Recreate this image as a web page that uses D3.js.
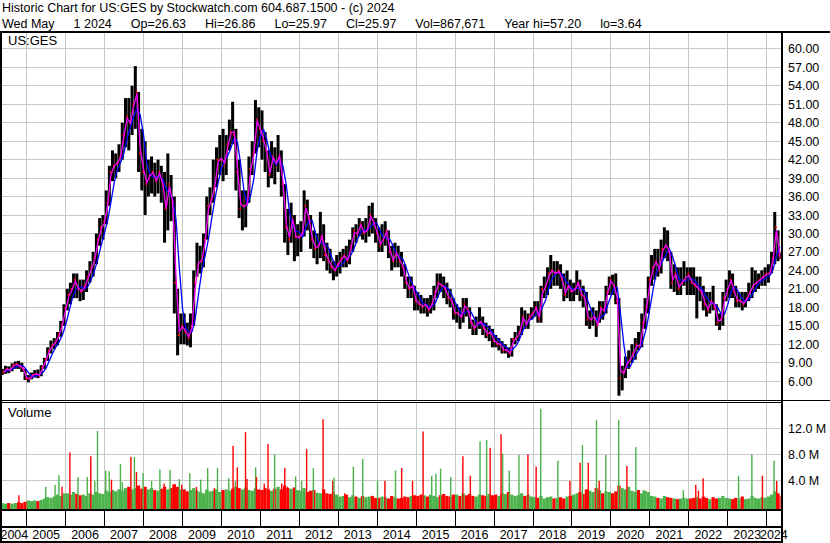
<!DOCTYPE html>
<html><head><meta charset="utf-8">
<script src="https://cdn.jsdelivr.net/npm/d3@7"></script>
<style>
body{margin:0;background:#fff}
svg{display:block}
text{font-family:"Liberation Sans",Arial,sans-serif;fill:#000}
</style>
</head><body>
<svg id="c" width="830" height="543"></svg>
<script>
// ---------------- data (monthly, May 2004 .. May 1 2024) ----------------
const startMonth = "2004-05-01";
const lastDate = "2024-05-01";
const high = [
 8.0, 8.5, 8.4, 8.9, 9.2, 9.3, 9.0, 8.0,
 7.0, 7.4, 7.8, 7.9, 8.6, 9.8, 11.5, 12.6, 13.0, 14.0, 15.8, 18.5,
 21.0, 22.0, 23.5, 23.5, 22.5, 22.5, 24.0, 25.5, 27.0, 30.0, 32.5, 33.0,
 37.0, 41.0, 43.5, 43.0, 44.5, 48.0, 52.0, 52.0, 54.0, 57.2, 53.0, 47.0,
 45.0, 42.0, 42.5, 41.5, 42.0, 41.0, 40.0, 43.0, 39.5, 36.0, 21.0, 17.0,
 17.0, 15.5, 17.0, 24.0, 28.5, 28.0, 30.0, 36.0, 37.5, 42.0, 44.0, 46.0,
 47.0, 46.0, 48.5, 51.4, 47.0, 42.0, 37.0, 37.0, 42.5, 45.0, 51.7, 50.5,
 50.0, 46.5, 43.5, 45.0, 44.0, 46.0, 43.5, 38.0, 34.0, 35.0, 33.0, 31.5,
 32.0, 37.0, 35.5, 33.0, 30.5, 30.0, 33.5, 31.5, 28.5, 27.5, 25.5, 26.5,
 27.0, 27.5, 28.0, 29.0, 31.0, 31.5, 32.5, 32.0, 32.5, 34.5, 35.0, 32.5,
 31.0, 31.5, 32.0, 30.5, 28.0, 28.5, 28.0, 27.0, 25.0, 23.0, 23.0, 21.5,
 20.5, 20.0, 19.5, 19.5, 20.0, 21.5, 23.5, 23.5, 23.0, 22.0, 21.0, 19.5,
 18.5, 18.0, 19.5, 19.5, 18.0, 16.0, 16.5, 18.0, 16.5, 15.5, 15.0, 14.5,
 13.5, 13.0, 12.5, 12.0, 11.5, 13.0, 14.0, 15.0, 18.0, 17.5, 17.0, 18.0,
 19.0, 19.0, 21.5, 23.0, 24.5, 26.5, 25.5, 25.5, 25.0, 23.5, 24.0, 22.5,
 22.0, 24.0, 22.5, 21.5, 20.5, 17.5, 18.0, 17.5, 19.0, 19.0, 21.5, 23.0,
 23.3, 23.5, 19.5, 8.5, 10.0, 11.0, 12.0, 13.0, 14.0, 17.0, 19.5, 23.0,
 26.5, 27.5, 27.5, 29.0, 31.0, 30.5, 27.0, 25.0, 24.5, 24.5, 25.5, 24.5,
 24.5, 24.5, 23.0, 23.0, 21.5, 20.5, 20.5, 21.5, 18.5, 17.0, 20.5, 22.5,
 24.0, 23.5, 21.5, 20.5, 20.5, 20.5, 22.0, 24.5, 24.0, 23.5, 24.0, 24.5,
 25.0, 27.0, 33.5, 30.5, 26.86
];
const low = [
 7.0, 7.2, 7.3, 7.6, 8.0, 8.0, 7.5, 6.2,
 5.8, 6.3, 6.6, 6.5, 6.8, 8.0, 9.3, 10.5, 11.2, 11.8, 13.2, 15.0,
 17.5, 18.5, 19.5, 19.5, 19.0, 19.2, 20.5, 22.0, 23.0, 25.0, 28.0, 29.0,
 31.5, 34.5, 38.5, 39.0, 40.0, 42.0, 44.0, 43.5, 46.0, 47.0, 40.0, 37.0,
 33.0, 36.0, 36.5, 36.0, 36.5, 35.0, 28.5, 30.5, 32.0, 17.0, 10.2, 12.0,
 12.0, 11.8, 11.5, 15.0, 23.0, 23.5, 24.5, 29.0, 33.0, 35.0, 37.5, 39.5,
 38.5, 39.5, 43.5, 44.5, 37.0, 32.5, 30.5, 31.0, 35.0, 39.5, 43.0, 44.0,
 42.0, 40.0, 37.5, 39.0, 38.0, 40.0, 36.0, 28.5, 26.5, 28.5, 25.5, 26.3,
 27.0, 29.5, 30.5, 27.5, 26.0, 25.0, 26.0, 25.5, 24.0, 23.5, 22.4, 23.0,
 23.5, 24.5, 24.5, 25.0, 27.0, 28.5, 29.5, 29.0, 28.5, 29.5, 30.0, 28.5,
 27.0, 27.0, 28.0, 26.0, 24.0, 24.5, 24.5, 23.0, 21.0, 19.5, 19.5, 17.5,
 17.5, 17.0, 17.0, 16.5, 17.0, 17.5, 19.5, 20.5, 19.5, 18.5, 18.0, 16.0,
 15.5, 14.5, 15.5, 16.5, 14.5, 13.5, 13.5, 14.5, 13.5, 13.0, 12.5, 11.5,
 11.5, 11.0, 10.5, 10.5, 9.8, 10.0, 12.0, 12.5, 13.5, 14.5, 14.5, 16.0,
 16.5, 15.5, 15.5, 19.5, 20.0, 21.0, 21.5, 21.5, 21.0, 19.0, 19.5, 19.0,
 19.0, 20.0, 19.0, 18.0, 15.0, 14.5, 15.0, 13.2, 15.5, 16.0, 17.0, 20.0,
 20.0, 18.5, 3.64, 4.5, 6.5, 8.0, 9.0, 9.5, 11.0, 11.5, 14.5, 17.0,
 21.5, 22.5, 23.0, 23.5, 26.0, 25.5, 21.0, 20.5, 20.0, 20.0, 21.5, 20.0,
 20.0, 20.0, 16.2, 19.0, 17.5, 16.5, 17.0, 17.5, 15.0, 14.3, 15.0, 19.0,
 19.5, 19.5, 18.0, 18.0, 17.5, 18.0, 19.0, 19.5, 20.5, 21.0, 21.5, 21.5,
 22.0, 23.5, 25.0, 25.5, 25.97
];
const close = [
 7.5, 8.0, 7.8, 8.6, 8.8, 8.4, 8.0, 6.4,
 6.4, 7.0, 7.2, 6.9, 8.3, 9.5, 11.0, 11.8, 12.4, 13.6, 15.2, 17.8,
 20.0, 21.0, 22.5, 21.0, 20.5, 21.5, 23.0, 24.5, 26.0, 29.0, 31.0, 32.0,
 35.0, 40.0, 41.0, 41.5, 42.5, 46.0, 49.0, 48.0, 51.0, 53.0, 43.0, 40.0,
 38.0, 39.5, 40.0, 38.5, 40.0, 38.0, 34.0, 38.0, 35.0, 22.0, 13.5, 15.0,
 14.0, 13.0, 15.0, 22.0, 25.0, 25.5, 29.0, 34.5, 35.5, 37.5, 42.0, 42.0,
 41.0, 44.5, 46.5, 46.0, 40.0, 34.0, 34.5, 35.0, 40.5, 43.0, 48.5, 47.0,
 45.0, 43.5, 39.5, 42.5, 41.5, 42.5, 38.0, 31.0, 29.0, 32.5, 29.5, 29.5,
 30.0, 34.5, 32.5, 29.0, 27.5, 28.0, 29.5, 26.5, 25.5, 24.5, 24.0, 25.0,
 26.0, 26.5, 25.5, 28.0, 30.5, 30.0, 31.5, 30.0, 30.5, 33.0, 31.5, 30.0,
 28.0, 29.0, 30.5, 27.0, 25.5, 27.0, 25.5, 24.5, 22.0, 21.0, 21.5, 19.0,
 18.5, 18.0, 18.5, 17.5, 18.5, 20.5, 22.0, 21.5, 21.0, 19.5, 19.0, 17.0,
 17.0, 16.5, 18.5, 17.5, 15.5, 14.5, 15.5, 15.5, 14.5, 13.5, 14.0, 12.5,
 12.0, 12.0, 11.0, 11.0, 10.5, 12.8, 13.0, 14.0, 16.5, 15.0, 16.5, 17.0,
 18.0, 16.0, 21.0, 21.5, 23.5, 24.0, 23.5, 24.0, 22.5, 20.0, 21.5, 20.5,
 21.0, 22.0, 20.0, 19.5, 16.0, 16.0, 16.5, 15.0, 18.0, 17.5, 20.5, 22.5,
 21.5, 19.0, 6.5, 7.5, 9.0, 9.5, 10.5, 12.0, 11.5, 15.5, 18.0, 22.5,
 24.5, 25.5, 24.0, 27.5, 28.0, 27.0, 22.0, 23.5, 21.0, 22.0, 22.5, 23.5,
 22.0, 21.5, 21.5, 20.5, 18.5, 17.5, 19.0, 18.0, 15.5, 16.0, 19.5, 21.0,
 22.5, 20.5, 19.0, 19.0, 18.5, 19.5, 20.5, 21.5, 22.0, 22.5, 23.0, 23.5,
 23.5, 26.0, 31.0, 26.5, 25.97
];
// typical monthly volume level (millions of shares)
const volume = [
 0.5, 0.4, 0.5, 0.4, 0.5, 0.6, 0.5, 0.7,
 0.9, 0.8, 0.9, 0.8, 1.0, 1.2, 1.4, 1.3, 1.5, 1.8, 1.6, 2.0,
 2.0, 1.8, 2.2, 1.9, 1.7, 1.8, 1.6, 2.0, 1.8, 2.2, 2.0, 1.9,
 2.4, 2.2, 2.5, 2.3, 2.6, 2.4, 2.8, 3.0, 2.6, 2.8, 3.2, 2.7,
 3.0, 2.6, 2.8, 2.5, 2.4, 2.7, 3.0, 2.6, 2.8, 3.4, 3.0, 2.6,
 2.6, 2.3, 2.5, 2.8, 2.4, 2.2, 2.0, 2.6, 2.3, 2.4, 2.6, 2.2,
 2.5, 2.6, 2.4, 2.7, 3.0, 2.8, 2.6, 2.9, 2.5, 2.4, 2.8, 2.6,
 2.5, 2.8, 2.6, 2.4, 2.7, 3.0, 2.6, 3.2, 2.8, 2.7, 2.9, 2.5,
 2.4, 2.8, 2.2, 2.4, 2.5, 2.1, 2.0, 2.6, 2.0, 1.9, 2.2, 1.8,
 1.5, 1.6, 1.8, 1.4, 1.7, 1.5, 1.3, 1.6, 1.4, 1.5, 1.6, 1.3,
 1.3, 1.5, 1.4, 1.2, 1.6, 1.4, 1.2, 1.3, 1.5, 1.4, 1.6, 1.7,
 1.6, 1.8, 1.7, 1.5, 1.8, 1.6, 1.4, 1.7, 1.9, 1.6, 1.5, 1.8,
 1.8, 1.6, 2.0, 1.7, 1.9, 1.6, 1.5, 1.8, 1.7, 1.6, 1.9, 1.7,
 1.8, 1.6, 2.0, 1.9, 2.2, 1.8, 1.6, 1.7, 2.0, 1.6, 1.8, 1.5,
 1.4, 1.3, 1.6, 1.2, 1.4, 1.5, 1.2, 1.3, 1.4, 1.2, 1.5, 1.6,
 1.8, 2.0, 2.2, 1.9, 2.6, 2.4, 2.2, 2.8, 2.5, 2.0, 2.3, 2.2,
 2.0, 2.3, 3.2, 2.8, 2.6, 3.0, 2.4, 2.2, 2.5, 2.0, 2.4, 2.2,
 1.6, 1.5, 1.3, 1.2, 1.6, 1.4, 1.3, 1.2, 1.1, 1.2, 1.3, 1.2,
 1.2, 1.3, 1.4, 1.2, 1.5, 1.3, 1.1, 1.4, 1.2, 1.3, 1.6, 1.3,
 1.2, 1.1, 1.3, 1.2, 1.5, 1.1, 1.2, 1.6, 1.3, 1.2, 1.4, 1.3,
 1.5, 1.8, 2.3, 2.0, 1.6
];
// single-day volume spikes (millions); direction u = up day (green), d = down day (red)
const spikeDates = [
 "2004-10-20","2005-06-28","2005-09-24","2005-10-30","2005-11-28","2006-02-10","2006-04-27","2006-07-23",
 "2006-08-25","2006-10-01","2006-10-27","2007-01-12","2007-02-14","2007-03-07","2007-05-30","2007-06-17",
 "2007-09-05","2007-10-08","2007-10-27","2007-12-28","2008-03-17","2008-06-03","2008-07-13","2008-09-06",
 "2008-10-05","2008-12-02","2008-12-24","2009-03-10","2009-05-12","2009-06-21","2009-08-25","2009-10-27",
 "2009-11-25","2010-03-10","2010-04-20","2010-05-12","2010-05-30","2010-08-15","2010-08-29","2010-11-18",
 "2010-11-25","2011-02-06","2011-03-14","2011-05-15","2011-07-20","2011-08-18","2011-09-13","2011-11-28",
 "2012-01-23","2012-03-10","2012-05-12","2012-08-11","2012-11-10","2012-11-21","2013-03-03","2013-05-22",
 "2013-08-18","2014-01-04","2014-03-14","2014-06-21","2014-08-18","2014-11-28","2015-03-07","2015-05-27",
 "2015-07-05","2015-08-18","2015-11-21","2016-03-14","2016-05-23","2016-08-22","2016-10-23","2016-11-25",
 "2017-03-07","2017-03-22","2017-05-23","2017-08-22","2017-11-14","2018-01-30","2018-03-14","2018-08-22",
 "2018-12-13","2019-03-18","2019-04-09","2019-06-03","2019-08-19","2019-09-13","2019-11-14","2020-03-14",
 "2020-05-30","2020-08-22","2020-10-30","2021-11-10","2022-03-07","2022-04-01","2022-05-15","2023-04-12",
 "2023-08-15","2023-11-22","2024-03-10","2024-04-04"
];
const spikeVols = [
 1.7, 3.0, 3.3, 4.8, 3.0, 8.3, 4.5, 4.5,
 7.7, 3.9, 11.6, 5.5, 5.4, 4.1, 6.5, 3.7,
 7.6, 7.6, 5.3, 5.1, 3.9, 5.7, 3.5, 5.6,
 3.3, 4.2, 3.3, 5.1, 3.0, 4.1, 5.9, 2.8,
 5.9, 4.3, 9.3, 3.9, 6.0, 11.4, 4.2, 6.0,
 4.5, 3.5, 9.6, 8.0, 3.5, 5.9, 3.0, 4.6,
 3.9, 8.8, 5.9, 13.4, 3.9, 4.4, 2.0, 6.1,
 7.3, 3.9, 3.9, 5.5, 5.9, 3.9, 11.5, 4.7,
 5.0, 5.8, 4.5, 7.7, 4.7, 10.0, 10.2, 9.0,
 11.1, 8.1, 5.5, 7.9, 8.0, 6.1, 15.0, 7.0,
 3.9, 6.7, 9.4, 6.7, 13.3, 3.9, 7.9, 13.3,
 6.2, 9.1, 2.5, 2.5, 3.3, 2.4, 4.3, 4.7,
 8.0, 4.7, 7.0, 3.9
];
const spikeDir = [
 "d","u","u","u","d","d","u","u",
 "d","u","u","u","u","d","u","u",
 "d","u","d","u","u","u","d","u",
 "d","u","d","u","d","u","u","d",
 "u","u","d","u","d","d","d","u",
 "d","d","d","u","d","d","d","u",
 "u","d","u","d","d","u","d","u",
 "u","u","d","u","d","d","d","u",
 "u","u","u","d","d","u","u","d",
 "d","u","u","u","d","d","u","u",
 "d","d","u","d","u","d","u","u",
 "d","u","u","u","d","d","d","u",
 "u","d","u","d"
];
const priceTicks = [6, 9, 12, 15, 18, 21, 24, 27, 30, 33, 36, 39, 42, 45, 48, 51, 54, 57, 60];
const volTicks = [4, 8, 12];
const years = d3.range(2004, 2025);
const title1 = "Historic Chart for US:GES by Stockwatch.com 604.687.1500 - (c) 2024";
const title2Fields = ["Wed May", "1 2024", "Op=26.63", "Hi=26.86", "Lo=25.97", "Cl=25.97", "Vol=867,671", "Year hi=57.20", "lo=3.64"];
const symbol = "US:GES";

// ---------------- layout ----------------
const W = 830, H = 543;
const L = 2, R = 781, PT = 33, PB = 400, VT = 403, VB = 509;
const svg = d3.select("#c");
svg.append("rect").attr("width", W).attr("height", H).attr("fill", "#fff");

const parse = d3.utcParse("%Y-%m-%d");
const x = d3.scaleUtc().domain([new Date(Date.UTC(2005,0,1)), new Date(Date.UTC(2024,0,1))]).range([26.7, 766.7]);
const y = d3.scaleLinear().domain([2.94, 62.74]).range([400, 32]);
const yv = d3.scaleLinear().domain([0, 16]).range([506.3, 402.3]);

const start = parse(startMonth), end = parse(lastDate);
const n = close.length;
const months = d3.range(n).map(i => {
  const s = d3.utcMonth.offset(start, i);
  let e = d3.utcMonth.offset(start, i + 1);
  if (e > end) e = d3.utcDay.offset(end, 1);
  return {s, e, mid: new Date((+s + +e) / 2), i};
});

const defs = svg.append("defs");
defs.append("clipPath").attr("id", "cp").append("rect").attr("x", L).attr("y", PT).attr("width", R - L).attr("height", PB - PT);
defs.append("clipPath").attr("id", "cv").append("rect").attr("x", L).attr("y", VT).attr("width", R - L).attr("height", VB - VT);

const gridC = "#c8c8c8";
const yearBounds = years.slice(1).map(yy => new Date(Date.UTC(yy, 0, 1)));
const px = v => Math.floor(v) + 0.5;

// price grid
const gp = svg.append("g");
gp.selectAll("line.h").data(priceTicks).join("line")
  .attr("x1", L).attr("x2", R).attr("y1", d => px(y(d))).attr("y2", d => px(y(d)))
  .attr("stroke", gridC);
gp.selectAll("line.v").data(yearBounds).join("line")
  .attr("x1", d => px(x(d))).attr("x2", d => px(x(d))).attr("y1", PT).attr("y2", PB)
  .attr("stroke", gridC);

// volume grid
const gv = svg.append("g");
gv.selectAll("line.h").data(volTicks).join("line")
  .attr("x1", L).attr("x2", R).attr("y1", d => px(yv(d))).attr("y2", d => px(yv(d)))
  .attr("stroke", gridC);
gv.selectAll("line.v").data(yearBounds).join("line")
  .attr("x1", d => px(x(d))).attr("x2", d => px(x(d))).attr("y1", VT).attr("y2", VB)
  .attr("stroke", gridC);

// price bars
const pg = svg.append("g").attr("clip-path", "url(#cp)");
pg.selectAll("rect.bar").data(months).join("rect")
  .attr("x", d => x(d.mid) - 1.5).attr("width", 3.0)
  .attr("y", d => y(high[d.i])).attr("height", d => Math.max(1, y(low[d.i]) - y(high[d.i])))
  .attr("fill", "#000");
pg.selectAll("rect.cl").data(months).join("rect")
  .attr("x", d => x(d.mid) + 0.3).attr("width", 1.6)
  .attr("y", d => y(close[d.i]) - 1).attr("height", 2)
  .attr("fill", "#ff0000");

// moving averages (derived from the monthly bars), plotted at each month's close date
const typ = months.map(d => (high[d.i] + low[d.i] + 2 * close[d.i]) / 4);
const tEnd = d => d.e > end ? end : d.e;
const fastMA = months.map(d => ({t: tEnd(d), v: (typ[d.i] + close[d.i]) / 2}));
const slowMA = months.map(d => ({t: tEnd(d), v: d3.mean(typ.slice(Math.max(0, d.i - 2), d.i + 1))}));
const line = d3.line().x(d => x(d.t)).y(d => y(d.v));
pg.append("path").datum(slowMA).attr("d", line).attr("fill", "none").attr("stroke", "#0000ff").attr("stroke-width", 1.3);
pg.append("path").datum(fastMA).attr("d", line).attr("fill", "none").attr("stroke", "#ff00ff").attr("stroke-width", 1.3);

// volume bars
const green = "#4cb34c", red = "#ff0000";
const vg = svg.append("g").attr("clip-path", "url(#cv)");
vg.selectAll("rect.vb").data(months).join("rect")
  .attr("x", d => x(d.s)).attr("width", d => Math.max(1, x(d.e) - x(d.s)))
  .attr("y", d => yv(volume[d.i])).attr("height", d => VB - yv(volume[d.i]))
  .attr("fill", d => (d.i === 0 || close[d.i] >= close[d.i - 1]) ? green : red);
const spikes = spikeDates.map((s, i) => ({t: parse(s), v: spikeVols[i], up: spikeDir[i] === "u"}));
vg.selectAll("rect.sp").data(spikes).join("rect")
  .attr("x", d => x(d.t) - 0.7).attr("width", 1.4)
  .attr("y", d => yv(d.v)).attr("height", d => VB - yv(d.v))
  .attr("fill", d => d.up ? green : red);

// right axes (labels only)
const fs = "12.5px";
const ax1 = svg.append("g").attr("transform", "translate(788,0)")
  .call(d3.axisRight(y).tickValues(priceTicks).tickFormat(d3.format(".2f")).tickSize(0).tickPadding(0));
const ax2 = svg.append("g").attr("transform", "translate(788,0)")
  .call(d3.axisRight(yv).tickValues(volTicks).tickFormat(d => d.toFixed(1) + " M").tickSize(0).tickPadding(0));
[ax1, ax2].forEach(a => {
  a.select(".domain").remove();
  a.selectAll("text").attr("fill", "#000").style("font-size", fs).style("font-family", '"Liberation Sans",Arial,sans-serif');
});

// frame lines
const blk = (x0, y0, w, h) => svg.append("rect").attr("x", x0).attr("y", y0).attr("width", w).attr("height", h).attr("fill", "#000");
blk(0, 31, W, 2);
blk(0, 31, 2, H - 31);
blk(781, 31, 2, H - 31);
blk(0, 400, W, 1);
blk(0, 402, 783, 1);
blk(0, 509, 783, 2);
blk(0, 526, 783, 2);
blk(0, 541, 783, 2);

// year boxes + labels
svg.selectAll("line.yb").data(yearBounds).join("line")
  .attr("x1", d => px(x(d))).attr("x2", d => px(x(d))).attr("y1", 511).attr("y2", 526)
  .attr("stroke", "#000");
svg.selectAll("text.yr").data(years).join("text")
  .attr("x", yy => {
    const a = Math.max(L, x(new Date(Date.UTC(yy, 0, 1))));
    const b = Math.min(R, x(new Date(Date.UTC(yy + 1, 0, 1))));
    return (a + b) / 2;
  })
  .attr("y", 539).attr("text-anchor", "middle").style("font-size", fs).text(d => d);

// header texts
svg.append("text").attr("x", 2).attr("y", 12).style("font-size", fs).text(title1);
const gap = 19;
let cx = 2;
title2Fields.forEach(f => {
  const t = svg.append("text").attr("x", cx).attr("y", 27.5).style("font-size", fs).text(f);
  cx += t.node().getComputedTextLength() + gap;
});
svg.append("text").attr("x", 8).attr("y", 45).style("font-size", "13px").text(symbol);
svg.append("text").attr("x", 8).attr("y", 417).style("font-size", "13px").text("Volume");
</script>
</body></html>
